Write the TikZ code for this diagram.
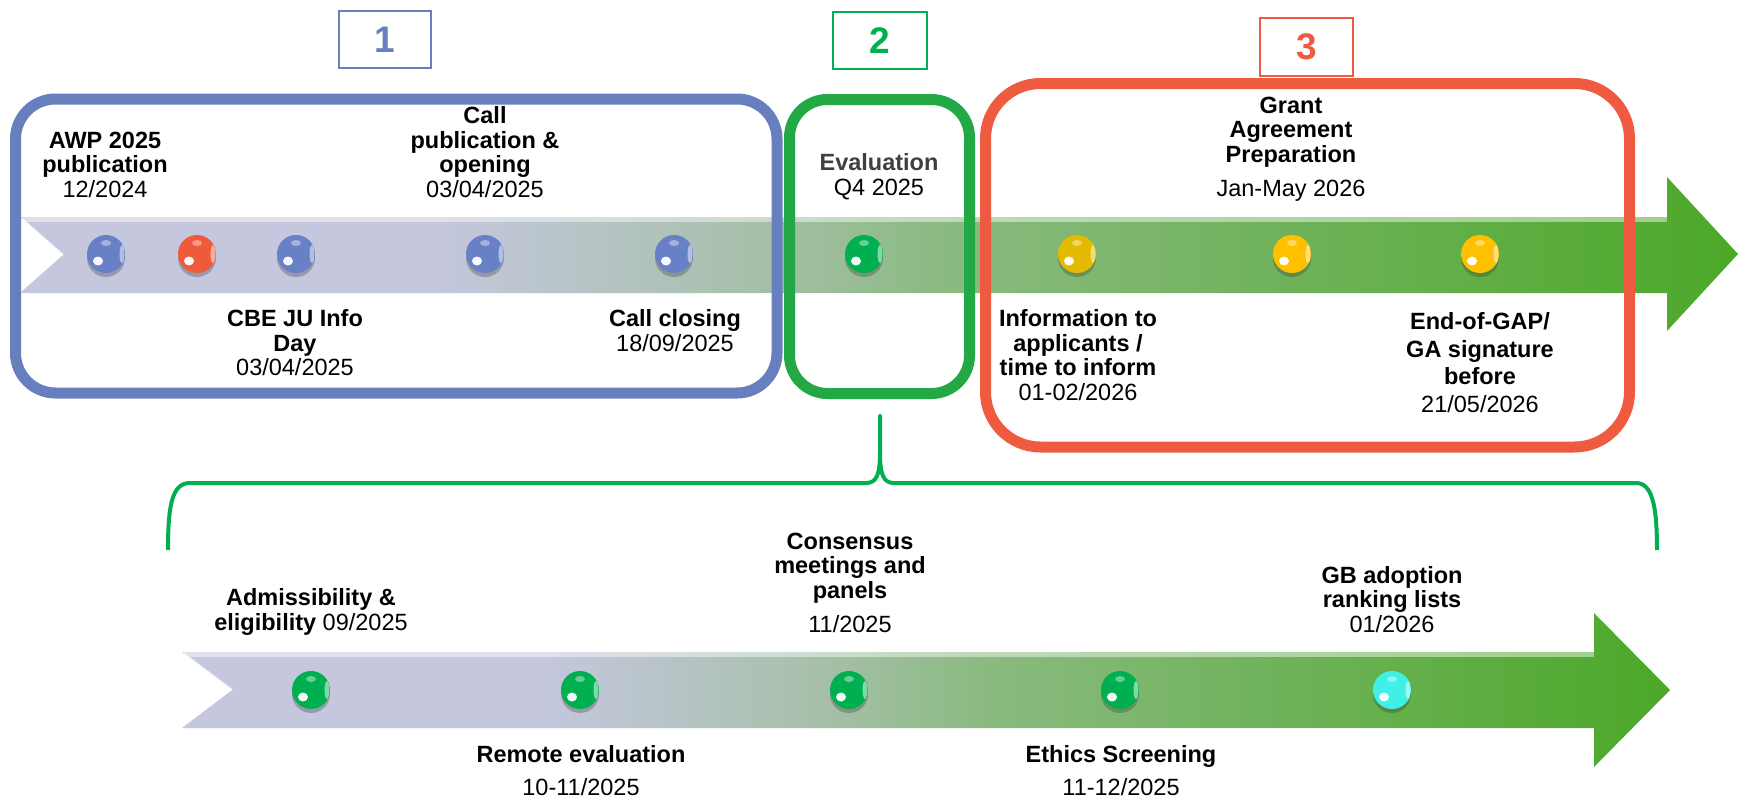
\documentclass[tikz,border=0pt]{standalone}
\usepackage{fontspec}
\setmainfont{Liberation Sans}
\usetikzlibrary{shadows}
\definecolor{cblue}{RGB}{104,127,189}
\definecolor{cgreen}{RGB}{34,168,68}
\definecolor{cgreen2}{RGB}{0,176,80}
\definecolor{cred}{RGB}{239,91,64}
\definecolor{lav}{RGB}{197,199,222}
\definecolor{gmid}{RGB}{168,192,172}
\definecolor{gmid2}{RGB}{138,186,128}
\definecolor{gend}{RGB}{76,168,40}
\definecolor{dblue}{RGB}{104,128,198}
\definecolor{dred}{RGB}{238,90,60}
\definecolor{dgreen}{RGB}{0,176,80}
\definecolor{dyellow}{RGB}{255,192,0}
\definecolor{dgold}{RGB}{228,186,0}
\definecolor{dcyan}{RGB}{62,240,230}
\definecolor{evalgray}{RGB}{64,64,64}
\pgfdeclarehorizontalshading{bandshade}{100bp}{color(0bp)=(lav); color(25bp)=(lav); color(37bp)=(lav); color(46bp)=(gmid); color(52bp)=(gmid2); color(75bp)=(gend); color(100bp)=(gend)}
\begin{document}
\begin{tikzpicture}[x=1pt,y=-1pt,
  lbl/.style={align=center, inner sep=0pt, font=\fontsize{23.5}{24.5}\selectfont, text=black},
  numbox/.style={draw=#1, line width=2.5pt, minimum width=92pt, minimum height=57pt, inner sep=0pt, text=#1, font=\fontsize{37}{37}\selectfont\bfseries},
  phase/.style={draw=#1, line width=11pt},
  band/.style={shading=bandshade},
  brace/.style={draw=cgreen2, line width=4pt, line join=round},
  dot/.style={circle, minimum size=38pt, inner sep=0pt, fill=#1,
    drop shadow={shadow xshift=0pt, shadow yshift=-4pt, opacity=0.3, fill=black!80},
    path picture={
      \fill[white,opacity=0.95] ([xshift=-8pt,yshift=-7pt]path picture bounding box.center) ellipse (5pt and 4.5pt);
      \fill[white,opacity=0.4] ([xshift=0pt,yshift=11pt]path picture bounding box.center) ellipse (5pt and 3pt);
      \fill[white,opacity=0.5] ([xshift=16pt]path picture bounding box.center) ellipse (2.5pt and 9pt);
    }}
]
\useasboundingbox (0,0) rectangle (1738,798);
\fill[white] (0,0) rectangle (1738,798);

% bands
\path[band] (20,217) -- (1667,217) -- (1667,177) -- (1738,254) -- (1667,331) -- (1667,293) -- (20,293) -- (63,255) -- cycle;
\fill[white,opacity=0.45] (22,217) rectangle (1667,222);
\draw[white,line width=2pt,opacity=0.8] (22,219) -- (63,255);
\path[band] (182,652) -- (1594,652) -- (1594,613) -- (1670,690) -- (1594,767) -- (1594,728) -- (182,728) -- (232,690) -- cycle;
\fill[white,opacity=0.45] (184,652) rectangle (1594,657);
\draw[white,line width=2pt,opacity=0.8] (184,654) -- (232,690);

% phase frames
\draw[phase=cblue, rounded corners=40pt] (15.5,99) rectangle (777,393);
\draw[phase=cgreen, rounded corners=38pt] (789.5,99.5) rectangle (969.5,393.5);
\draw[phase=cred, rounded corners=55pt] (985.5,83.5) rectangle (1629.5,447);

% number boxes
\node[numbox=cblue] (n1) at (385,39.5) {1};
\node[numbox=cgreen2, minimum width=94pt] (n2) at (880,40.5) {2};
\node[numbox=cred, minimum width=93pt, minimum height=58pt] (n3) at (1306.5,47) {3};

% top dots
\node[dot=dblue] (t1) at (106,254) {};
\node[dot=dred] (t2) at (197,254) {};
\node[dot=dblue] (t3) at (296,254) {};
\node[dot=dblue] (t4) at (485,254) {};
\node[dot=dblue] (t5) at (674,254) {};
\node[dot=dgreen] (t6) at (864,254) {};
\node[dot=dgold] (t7) at (1077,254) {};
\node[dot=dyellow] (t8) at (1292,254) {};
\node[dot=dyellow] (t9) at (1480,254) {};

% bottom dots
\node[dot=dgreen] (b1) at (311,690) {};
\node[dot=dgreen] (b2) at (580,690) {};
\node[dot=dgreen] (b3) at (849,690) {};
\node[dot=dgreen] (b4) at (1120,690) {};
\node[dot=dcyan] (b5) at (1392,690) {};

% brace
\draw[brace] (168,550) .. controls (168,505) and (172,483) .. (190,483) -- (866,483) .. controls (877,483) and (880,474) .. (880,452) -- (880,416) -- (880,452) .. controls (880,474) and (883,483) .. (894,483) -- (1636,483) .. controls (1652,483) and (1657,505) .. (1657,550);

% top labels
\node[lbl] (awp) at (105,164.5) {\textbf{AWP 2025}\\\textbf{publication}\\12/2024};
\node[lbl] (callpub) at (485,152) {\textbf{Call}\\\textbf{publication \&}\\\textbf{opening}\\03/04/2025};
\node[lbl] (infoday) at (295,343) {\textbf{CBE JU Info}\\\textbf{Day}\\03/04/2025};
\node[lbl] (closing) at (675,330.5) {\textbf{Call closing}\\18/09/2025};
\node[lbl] (eval) at (879,176.5) {\textcolor{evalgray}{\textbf{Evaluation}}\\Q4 2025};
\node[lbl] (grant) at (1291,149) {\textbf{Grant}\\\textbf{Agreement}\\\textbf{Preparation}\\[9.5pt]Jan-May 2026};
\node[lbl] (info) at (1078,355) {\textbf{Information to}\\\textbf{applicants /}\\\textbf{time to inform}\\01-02/2026};
\node[lbl] (endgap) at (1480,362.5) {\textbf{End-of-GAP/}\\[3pt]\textbf{GA signature}\\[3pt]\textbf{before}\\[3pt]21/05/2026};

% bottom labels
\node[lbl] (admiss) at (311,612) {\textbf{Admissibility \&}\\\textbf{eligibility} 09/2025};
\node[lbl] (consensus) at (850,582.5) {\textbf{Consensus}\\\textbf{meetings and}\\\textbf{panels}\\[9.5pt]11/2025};
\node[lbl] (remote) at (581,770.5) {\textbf{Remote evaluation}\\[8.5pt]10-11/2025};
\node[lbl] (ethics) at (1121,770.5) {\textbf{Ethics Screening}\\[8.5pt]11-12/2025};
\node[lbl] (gb) at (1392,599.5) {\textbf{GB adoption}\\\textbf{ranking lists}\\01/2026};
\end{tikzpicture}
\end{document}
